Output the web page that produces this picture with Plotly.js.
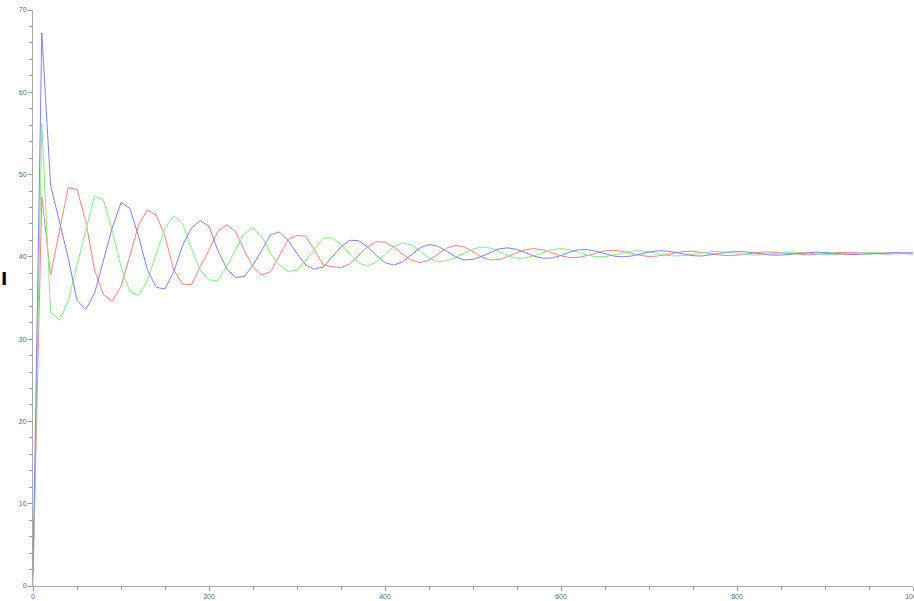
<!DOCTYPE html>
<html>
<head>
<meta charset="utf-8">
<script src="https://cdn.plot.ly/plotly-3.0.1.min.js"></script>
<style>
html,body{margin:0;padding:0;background:#fff;overflow:hidden;}
#chart{width:914px;height:601px;}
</style>
</head>
<body>
<div id="chart"></div>
<script>
// x sample positions (step 10, 0..1000)
const xValues = [
  0,10,20,30,40,50,60,70,80,90,
  100,110,120,130,140,150,160,170,180,190,
  200,210,220,230,240,250,260,270,280,290,
  300,310,320,330,340,350,360,370,380,390,
  400,410,420,430,440,450,460,470,480,490,
  500,510,520,530,540,550,560,570,580,590,
  600,610,620,630,640,650,660,670,680,690,
  700,710,720,730,740,750,760,770,780,790,
  800,810,820,830,840,850,860,870,880,890,
  900,910,920,930,940,950,960,970,980,990,
  1000
];

const redSeries = [
  1.0,47.3,37.8,43.1,48.4,48.2,44.3,38.4,35.4,34.6,
  36.4,40.1,43.9,45.7,45.1,42.5,38.4,36.7,36.6,38.8,
  40.8,43.1,43.9,43.1,40.8,38.8,37.8,38.2,40.2,42.1,
  42.6,42.5,40.8,39.0,38.8,38.7,39.15,40.13,41.2,41.84,
  41.79,41.2,40.33,39.59,39.3,39.59,40.31,41.05,41.4,41.2,
  40.63,39.99,39.62,39.68,40.04,40.52,40.89,41.0,40.83,40.49,
  40.13,39.92,39.94,40.16,40.48,40.73,40.8,40.67,40.43,40.18,
  40.05,40.1,40.28,40.51,40.67,40.69,40.57,40.39,40.22,40.15,
  40.2,40.34,40.5,40.59,40.58,40.5,40.38,40.28,40.25,40.3,
  40.4,40.5,40.55,40.53,40.47,40.39,40.33,40.33,40.37,40.42,
  40.46
];

const greenSeries = [
  0.5,56.2,33.3,32.3,34.6,39.0,43.3,47.4,46.9,43.2,
  38.8,35.8,35.3,37.2,40.4,43.5,45.0,44.1,41.0,38.4,
  37.2,37.1,38.8,40.8,42.8,43.5,42.5,40.4,39.0,38.2,
  38.4,39.6,41.0,42.3,42.3,41.56,40.33,39.26,38.9,39.35,
  40.3,41.25,41.7,41.44,40.68,39.85,39.41,39.51,39.92,40.47,
  40.96,41.19,41.07,40.63,40.12,39.82,39.87,40.16,40.56,40.89,
  41.0,40.86,40.55,40.22,40.02,40.04,40.23,40.5,40.7,40.74,
  40.62,40.4,40.19,40.1,40.16,40.32,40.51,40.63,40.64,40.53,
  40.37,40.24,40.2,40.27,40.39,40.51,40.58,40.55,40.46,40.36,
  40.28,40.28,40.34,40.42,40.5,40.52,40.49,40.43,40.37,40.33,
  40.34
];

const blueSeries = [
  1.5,67.2,48.7,44.4,39.9,34.7,33.6,35.6,39.6,43.5,
  46.6,45.9,42.5,38.4,36.3,36.1,38.2,41.4,43.5,44.4,
  43.7,40.8,38.6,37.5,37.6,39.0,40.8,42.7,43.0,42.0,
  40.4,39.0,38.5,38.8,40.0,41.2,42.02,41.97,41.23,40.17,
  39.3,39.0,39.4,40.25,41.1,41.5,41.29,40.69,40.01,39.62,
  39.69,40.07,40.58,40.99,41.09,40.89,40.49,40.07,39.83,39.86,
  40.16,40.58,40.86,40.87,40.68,40.37,40.1,40.0,40.1,40.33,
  40.59,40.74,40.71,40.54,40.31,40.14,40.1,40.21,40.41,40.58,
  40.65,40.6,40.46,40.3,40.21,40.22,40.31,40.45,40.56,40.58,
  40.52,40.42,40.32,40.28,40.3,40.37,40.46,40.51,40.52,40.49,
  40.46
];

const xTickVals = [0,200,400,600,800,1000];
const xTickText = ['0','200','400','600','800','1000'];
const yTickVals = [0,10,20,30,40,50,60,70];
const yTickText = ['0','10','20','30','40','50','60','70'];

const lineColors = {red:'rgb(255,128,128)', green:'rgb(128,240,128)', blue:'rgb(128,128,255)'};

const traces = [
  {x:xValues, y:redSeries, type:'scatter', mode:'lines', line:{color:lineColors.red, width:1}, showlegend:false},
  {x:xValues, y:greenSeries, type:'scatter', mode:'lines', line:{color:lineColors.green, width:1}, showlegend:false},
  {x:xValues, y:blueSeries, type:'scatter', mode:'lines', line:{color:lineColors.blue, width:1}, showlegend:false}
];

const axisFont = {family:'Liberation Sans, Arial, sans-serif', size:7, color:'#666'};

const layout = {
  width:914, height:601,
  margin:{l:33, r:1, t:10, b:15, pad:0},
  paper_bgcolor:'#fff', plot_bgcolor:'#fff',
  showlegend:false,
  hovermode:false,
  xaxis:{
    range:[0,1000], showgrid:false, zeroline:false,
    showline:true, linecolor:'#aaa', linewidth:1,
    ticks:'outside', ticklen:4, tickcolor:'#999', tickwidth:1,
    tickvals:xTickVals, ticktext:xTickText,
    tickfont:axisFont, ticklabeloverflow:'allow',
    minor:{dtick:50, ticks:'outside', ticklen:3, tickcolor:'#999', tickwidth:1, showgrid:false},
    fixedrange:true
  },
  yaxis:{
    range:[0,70], showgrid:false, zeroline:false,
    showline:true, linecolor:'#aaa', linewidth:1,
    ticks:'outside', ticklen:4, tickcolor:'#999', tickwidth:1,
    tickvals:yTickVals, ticktext:yTickText,
    tickfont:axisFont, ticklabeloverflow:'allow',
    minor:{dtick:2, ticks:'outside', ticklen:3, tickcolor:'#999', tickwidth:1, showgrid:false},
    fixedrange:true
  },
  annotations:[
    {text:'<b>I</b>', xref:'paper', yref:'paper', x:0, y:0.533, xshift:-29, xanchor:'center', yanchor:'middle',
     showarrow:false, font:{family:'DejaVu Sans, sans-serif', size:17, color:'#000'}}
  ]
};

Plotly.newPlot('chart', traces, layout, {staticPlot:true, displayModeBar:false});
</script>
</body>
</html>
